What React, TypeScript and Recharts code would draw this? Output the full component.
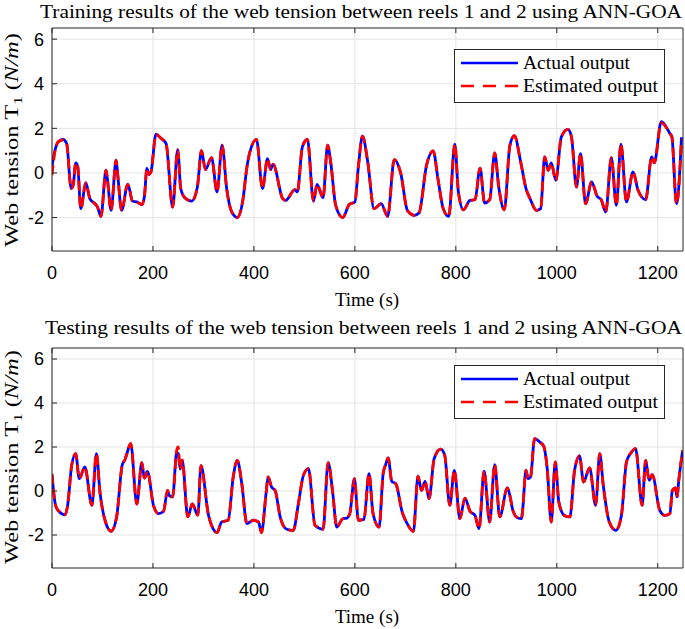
import React from "react";
import { LineChart, Line, XAxis, YAxis, CartesianGrid } from "recharts";

const xTicks = [0, 200, 400, 600, 800, 1000, 1200];
const yTicks = [-2, 0, 2, 4, 6];

const trainTime = [
  0, 6, 12, 22, 29, 38, 42, 47, 51, 57,
  67, 75, 85, 90, 97, 107, 110, 117, 127, 130,
  138, 150, 154, 159, 168, 178, 183, 188, 192, 196,
  206, 216, 226, 239, 249, 255, 263, 277, 288, 296,
  304, 316, 327, 337, 346, 356, 367, 378, 386, 392,
  405, 417, 427, 433, 438, 457, 463, 481, 486, 496,
  506, 518, 525, 537, 546, 552, 562, 576, 589, 600,
  607, 615, 625, 638, 652, 665, 678, 691, 704, 718,
  727, 742, 755, 765, 775, 786, 798, 805, 815, 828,
  838, 848, 857, 867, 877, 885, 896, 907, 916, 928,
  939, 947, 960, 968, 976, 983, 989, 998, 1009, 1022,
  1029, 1039, 1047, 1057, 1069, 1080, 1088, 1097, 1108, 1118,
  1127, 1138, 1151, 1161, 1176, 1188, 1193, 1207, 1224, 1228,
  1237, 1240, 1247,
];
const trainActual = [
  0.3, 1.02, 1.39, 1.5, 1.32, -0.7, -0.55, 0.45, 0.27, -1.6,
  -0.45, -1.15, -1.38, -1.52, -1.95, 0.12, -0.33, -1.68, 0.57, -0.03,
  -1.68, -0.51, -0.77, -1.26, -1.3, -1.42, -1.07, 0.2, -0.07, 0.04,
  1.74, 1.55, 1.32, -1.53, 1.05, -0.7, -1.11, -1.26, -0.63, 1.0,
  0.15, 0.69, -0.85, 1.25, -0.7, -1.75, -2.0, -1.23, 0.24, 0.94,
  1.5, -0.7, 0.64, 0.15, 0.39, -1.15, -1.23, -0.75, -0.85, 1.17,
  1.5, -1.26, -0.51, -1.11, 1.25, 0.5, -1.45, -2.0, -1.41, -1.3,
  0.3, 1.65, 0.57, -1.6, -1.38, -1.95, 0.6, -0.03, -1.68, -1.9,
  -1.8, 0.35, 0.99, -0.33, -1.6, -1.95, 1.29, -0.84, -1.65, -1.23,
  -1.2, 0.22, -1.35, -1.2, 0.9, -0.63, -1.65, 1.22, 1.67, 0.55,
  -0.7, -1.15, -1.68, -1.6, 0.72, 0.12, 0.45, -0.33, 1.62, 1.95,
  1.62, -0.63, 0.87, -1.38, -0.4, -1.05, -1.2, -1.75, 0.69, -1.45,
  1.29, -1.3, 0.05, -0.78, -1.2, 0.72, 0.45, 2.3, 1.77, 1.62,
  -1.38, -1.07, 1.6,
];
const trainEstimated = [
  -0.1, 0.98, 1.39, 1.48, 1.32, -0.7, -0.55, 0.45, 0.27, -1.6,
  -0.45, -1.15, -1.38, -1.52, -1.95, 0.12, -0.33, -1.68, 0.57, -0.03,
  -1.68, -0.51, -0.77, -1.26, -1.3, -1.42, -1.07, 0.2, -0.07, 0.04,
  1.72, 1.55, 1.32, -1.53, 1.05, -0.7, -1.11, -1.26, -0.63, 1.0,
  0.15, 0.69, -0.85, 1.25, -0.7, -1.75, -2.0, -1.23, 0.24, 0.94,
  1.5, -0.7, 0.64, 0.15, 0.39, -1.15, -1.23, -0.75, -0.85, 1.17,
  1.5, -1.26, -0.51, -1.11, 1.25, 0.5, -1.45, -2.0, -1.41, -1.3,
  0.3, 1.65, 0.57, -1.6, -1.38, -1.95, 0.6, -0.03, -1.68, -1.9,
  -1.8, 0.35, 0.99, -0.33, -1.6, -1.95, 1.29, -0.84, -1.65, -1.23,
  -1.2, 0.22, -1.35, -1.2, 0.9, -0.63, -1.65, 1.22, 1.67, 0.55,
  -0.7, -1.15, -1.68, -1.6, 0.72, 0.12, 0.45, -0.33, 1.62, 1.95,
  1.62, -0.63, 0.87, -1.38, -0.4, -1.05, -1.2, -1.75, 0.69, -1.45,
  1.29, -1.3, 0.05, -0.78, -1.2, 0.72, 0.45, 2.25, 1.77, 1.62,
  -1.38, -1.07, 1.5,
];

const testTime = [
  0, 7, 14, 26, 31, 39, 47, 54, 65, 79,
  88, 95, 106, 117, 128, 139, 145, 148, 156, 168,
  178, 183, 189, 201, 211, 221, 229, 232, 239, 247,
  250, 254, 258, 269, 278, 289, 295, 310, 316, 327,
  336, 349, 359, 367, 376, 386, 399, 409, 415, 424,
  428, 435, 442, 452, 465, 478, 488, 498, 508, 521,
  537, 547, 556, 564, 576, 584, 590, 599, 607, 618,
  628, 636, 648, 656, 661, 666, 673, 681, 694, 702,
  716, 725, 732, 739, 747, 757, 770, 778, 788, 797,
  808, 818, 828, 838, 846, 856, 867, 877, 887, 902,
  907, 913, 923, 930, 932, 939, 943, 948, 956, 966,
  974, 981, 989, 997, 1004, 1015, 1026, 1035, 1045, 1053,
  1065, 1077, 1085, 1092, 1104, 1117, 1128, 1138, 1146, 1156,
  1169, 1176, 1183, 1189, 1204, 1214, 1224, 1229, 1235, 1238,
  1242, 1249,
];
const testActual = [
  0.74, -0.65, -0.93, -1.08, -0.65, 1.17, 1.7, 0.56, 1.09, -0.65,
  1.7, -0.05, -1.41, -1.83, -1.18, 1.17, 1.45, 1.67, 2.15, -0.59,
  1.29, 0.59, 0.89, -0.65, -1.03, -0.92, 0.03, -0.2, -0.27, 1.75,
  1.7, 1.0, 1.4, -1.18, -0.59, -1.1, 1.15, -1.1, -1.56, -1.89,
  -1.41, -1.33, 0.64, 1.39, 0.33, -1.48, -1.33, -1.41, -1.89, -0.12,
  0.64, 0.18, 0.03, -1.18, -1.74, -1.79, -0.59, 0.71, 1.02, -1.56,
  -1.74, 1.29, -0.05, -1.64, -1.26, -1.23, -1.03, 0.56, -1.33, -1.29,
  0.79, -1.03, -1.64, 0.79, 1.2, 1.5, 0.44, 0.33, -0.98, -1.41,
  -1.83, 0.68, 0.03, 0.44, -0.35, 1.47, 1.9, 1.62, -0.65, 0.94,
  -1.26, -0.32, -0.92, -1.11, -1.71, 0.9, -1.41, 1.2, -1.18, 0.14,
  -0.2, -0.88, -1.23, -1.26, -0.95, 0.94, 0.56, 0.64, 2.38, 2.23,
  2.04, 1.02, -1.41, 1.32, -0.5, -1.11, -1.18, 0.9, 1.6, 0.41,
  1.05, -0.65, 1.7, 0.26, -1.41, -1.79, -1.11, 1.32, 1.7, 1.93,
  -0.65, 1.39, 0.48, 0.74, -0.88, -1.11, -1.03, 0.03, 0.14, -0.27,
  0.56, 1.8,
];
const testEstimated = [
  0.78, -0.65, -0.93, -1.08, -0.65, 1.17, 1.7, 0.56, 1.09, -0.65,
  1.7, -0.05, -1.41, -1.83, -1.18, 1.17, 1.45, 1.67, 2.15, -0.59,
  1.29, 0.59, 0.89, -0.65, -1.03, -0.92, 0.03, -0.2, -0.27, 1.85,
  2.0, 1.0, 1.4, -1.18, -0.59, -1.1, 1.15, -1.1, -1.56, -1.89,
  -1.41, -1.33, 0.64, 1.39, 0.33, -1.48, -1.33, -1.41, -1.89, -0.12,
  0.64, 0.18, 0.03, -1.18, -1.74, -1.79, -0.59, 0.71, 1.02, -1.56,
  -1.74, 1.29, -0.05, -1.64, -1.26, -1.23, -1.03, 0.56, -1.33, -1.29,
  0.79, -1.03, -1.64, 0.79, 1.2, 1.5, 0.44, 0.33, -0.98, -1.41,
  -1.83, 0.68, 0.03, 0.44, -0.35, 1.47, 1.9, 1.62, -0.65, 0.94,
  -1.26, -0.32, -0.92, -1.11, -1.71, 0.9, -1.41, 1.2, -1.18, 0.14,
  -0.2, -0.88, -1.23, -1.26, -0.95, 0.94, 0.56, 0.64, 2.38, 2.23,
  2.04, 1.02, -1.41, 1.32, -0.5, -1.11, -1.18, 0.9, 1.6, 0.41,
  1.05, -0.65, 1.7, 0.26, -1.41, -1.79, -1.11, 1.32, 1.7, 1.93,
  -0.65, 1.39, 0.48, 0.74, -0.88, -1.11, -1.03, 0.03, 0.14, -0.27,
  0.56, 1.85,
];

const toRows = (time: number[], actual: number[], estimated: number[]) =>
  time.map((t, i) => ({ t, actual: actual[i], estimated: estimated[i] }));

const trainData = toRows(trainTime, trainActual, trainEstimated);
const testData = toRows(testTime, testActual, testEstimated);

const AXIS = "#262626";
const SERIF = "'Liberation Serif', 'DejaVu Serif', serif";
const SANS = "'Liberation Sans', Arial, sans-serif";

// legend drawn as a plain svg block so it does not eat plot height
const LegendBox = ({ x, y }: { x: number; y: number }) => (
  <g transform={`translate(${x},${y})`}>
    <rect x={0.5} y={0.5} width={210} height={53} fill="#fff" stroke={AXIS} strokeWidth={1} />
    <line x1={7} x2={64} y1={14} y2={14} stroke="#0000ff" strokeWidth={2.5} />
    <text x={69} y={20} fontFamily={SERIF} fontSize={19} textLength={107} lengthAdjust="spacingAndGlyphs" fill="#000">
      Actual output
    </text>
    <line x1={7} x2={64} y1={37} y2={37} stroke="#ff0000" strokeWidth={2.5} strokeDasharray="13 9" />
    <text x={69} y={43} fontFamily={SERIF} fontSize={19} textLength={135} lengthAdjust="spacingAndGlyphs" fill="#000">
      Estimated output
    </text>
  </g>
);

interface IPanelProps {
  data: any[];
  top: number;
  height: number;
  marginTop: number;
  marginBottom: number;
}

const Panel = ({ data, top, height, marginTop, marginBottom }: IPanelProps) => {
  return (
    <div style={{ position: "absolute", left: 0, top, width: 685, height }}>
      <LineChart width={685} height={height} data={data} margin={{ top: marginTop, right: 1, left: 0, bottom: marginBottom }}>
        <CartesianGrid stroke="#e3e3e3" strokeWidth={1} horizontalValues={yTicks} verticalValues={xTicks} />
        <XAxis
          dataKey="t"
          type="number"
          domain={[0, 1250]}
          ticks={xTicks}
          allowDataOverflow
          height={26}
          tickSize={-5}
          tickMargin={20}
          stroke={AXIS}
          tick={{ fill: "#000", fontSize: 18, fontFamily: SANS }}
        />
        <XAxis
          xAxisId="top"
          orientation="top"
          dataKey="t"
          type="number"
          domain={[0, 1250]}
          ticks={xTicks}
          height={1}
          tickSize={-5}
          stroke={AXIS}
          tickFormatter={() => ""}
        />
        <YAxis
          type="number"
          domain={[-3.5, 6.5]}
          ticks={yTicks}
          allowDataOverflow
          width={52}
          tickSize={-5}
          tickMargin={13}
          stroke={AXIS}
          tick={{ fill: "#000", fontSize: 18, fontFamily: SANS }}
        />
        <YAxis
          yAxisId="right"
          orientation="right"
          type="number"
          domain={[-3.5, 6.5]}
          ticks={yTicks}
          width={1}
          tickSize={-5}
          stroke={AXIS}
          tickFormatter={() => ""}
        />
        <Line
          dataKey="actual"
          type="monotone"
          stroke="#0000ff"
          strokeWidth={2.8}
          dot={false}
          isAnimationActive={false}
          name="Actual output"
        />
        <Line
          dataKey="estimated"
          type="monotone"
          stroke="#ff0000"
          strokeWidth={2.8}
          strokeDasharray="10 5"
          dot={false}
          isAnimationActive={false}
          name="Estimated output"
        />
      </LineChart>
    </div>
  );
};

const YLabel = ({ cy }: { cy: number }) => (
  <text
    transform={`translate(18,${cy}) rotate(-90)`}
    textAnchor="middle"
    fontFamily={SERIF}
    fontSize={19}
    textLength={214}
    lengthAdjust="spacingAndGlyphs"
    fill="#000"
  >
    Web tension T
    <tspan fontSize={13} dy={4}>1</tspan>
    <tspan dy={-4}> (</tspan>
    <tspan fontStyle="italic">N/m</tspan>
    <tspan>)</tspan>
  </text>
);

const App = () => {
  return (
    <div style={{ position: "absolute", left: 0, top: 0, width: 685, height: 629, background: "#fff", overflow: "hidden" }}>
      <Panel data={trainData} top={0} height={314} marginTop={27} marginBottom={37} />
      <Panel data={testData} top={316} height={313} marginTop={31} marginBottom={35} />
      <svg width={685} height={629} style={{ position: "absolute", left: 0, top: 0, pointerEvents: "none" }}>
        <LegendBox x={454} y={49} />
        <LegendBox x={454} y={365} />
        <text x={40} y={18} fontFamily={SERIF} fontSize={18} textLength={642} lengthAdjust="spacingAndGlyphs" fill="#000">
          Training results of the web tension between reels 1 and 2 using ANN-GOA
        </text>
        <text x={45} y={334} fontFamily={SERIF} fontSize={18} textLength={637} lengthAdjust="spacingAndGlyphs" fill="#000">
          Testing results of the web tension between reels 1 and 2 using ANN-GOA
        </text>
        <YLabel cy={140} />
        <YLabel cy={457} />
        <text x={367} y={306} textAnchor="middle" fontFamily={SERIF} fontSize={19} fill="#000">
          Time (s)
        </text>
        <text x={367} y={623} textAnchor="middle" fontFamily={SERIF} fontSize={19} fill="#000">
          Time (s)
        </text>
      </svg>
    </div>
  );
};

export default App;
